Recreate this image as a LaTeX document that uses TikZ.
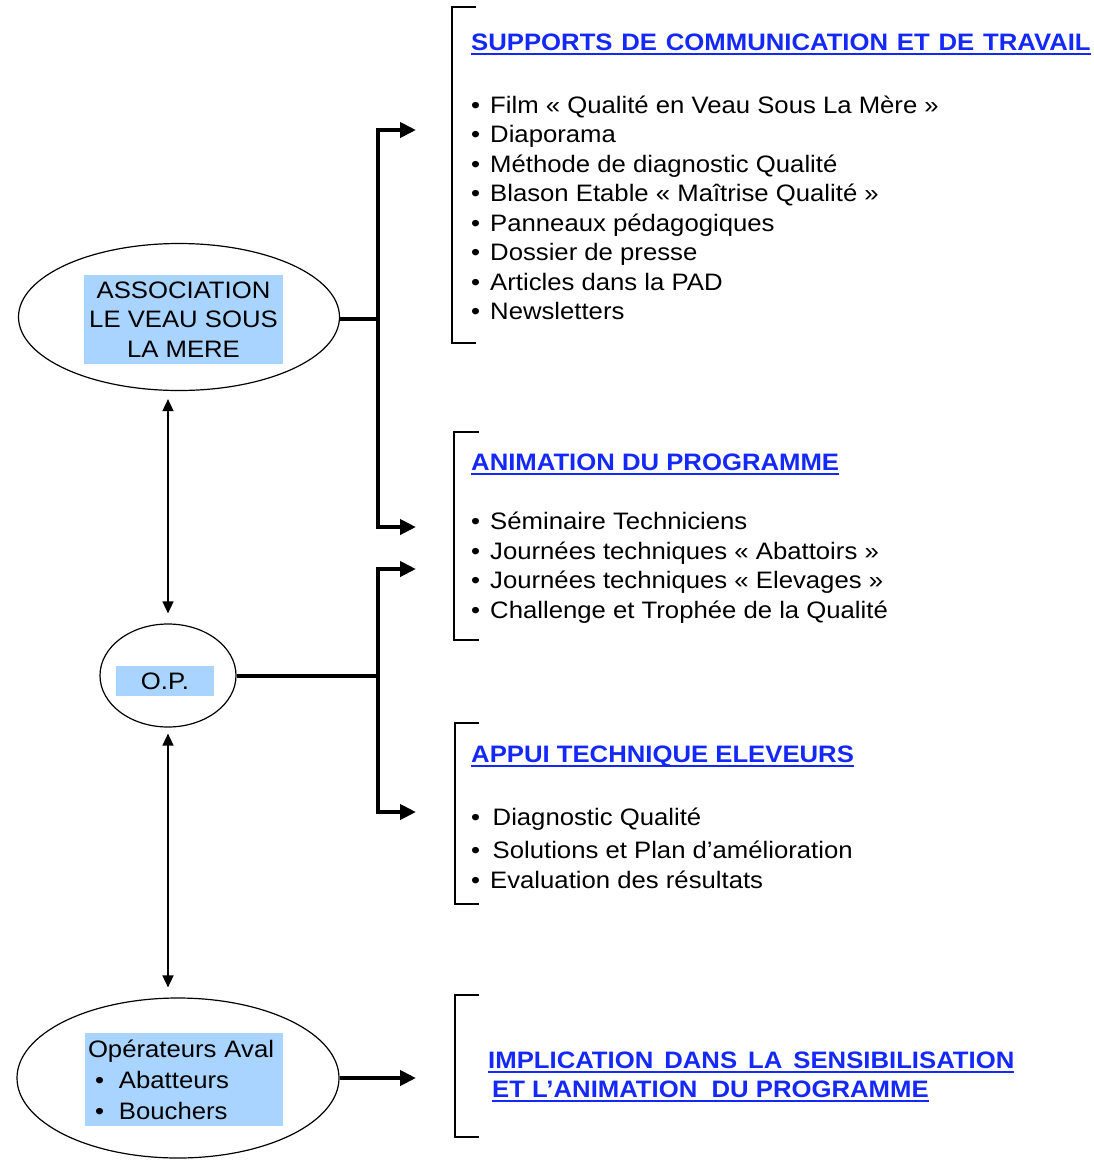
\documentclass[tikz,border=0pt]{standalone}
\usepackage{fontspec}
\setmainfont[FakeStretch=1.08]{Liberation Sans}
\usetikzlibrary{shapes.geometric, arrows.meta}
\definecolor{titleblue}{RGB}{20,40,250}
\definecolor{boxblue}{RGB}{168,212,255}
\newcommand{\bodysize}{\fontsize{23.8}{29.5}\selectfont}
\newcommand{\ultitle}[1]{\setbox0\hbox{#1}\rlap{\rule[-4.5pt]{\wd0}{1.4pt}}\box0}
\newcommand{\dotitem}{\makebox[19pt][l]{•}}
\newcommand{\wideitem}{\makebox[21.5pt][l]{•}}

\begin{document}
\begin{tikzpicture}[x=1pt, y=-1pt,
  actor/.style={ellipse, draw, line width=1.2pt, inner sep=0pt},
  namebox/.style={fill=boxblue, inner sep=0pt, font=\bodysize, align=center},
  heading/.style={anchor=base west, inner sep=0pt, font=\bodysize\bfseries, text=titleblue},
  entry/.style={anchor=base west, inner sep=0pt, font=\bodysize},
  brace/.style={line width=2.2pt},
  trunk/.style={line width=4.4pt},
  feed/.style={trunk, -{Triangle[length=16pt,width=15pt]}},
  link/.style={line width=1.5pt, {Triangle[length=12pt,width=11pt]}-{Triangle[length=12pt,width=11pt]}}]
	\useasboundingbox (0,0) rectangle (1094,1160);

	% the three partners
	\node[actor, minimum width=321, minimum height=147] (assoc) at (179,317) {};
	\node[namebox, minimum width=199, minimum height=89] (assoc-txt) at (183.5,319.5) {ASSOCIATION\\LE VEAU SOUS\\LA MERE};
	\node[actor, minimum width=136, minimum height=103] (op) at (168,675.5) {};
	\node[namebox, minimum width=98, minimum height=30] (op-txt) at (165,681) {O.P.};
	\node[actor, minimum width=322, minimum height=160] (aval) at (178,1078) {};
	\node[namebox, align=left, inner xsep=3pt, text width=192, minimum height=93, font=\fontsize{23.8}{31}\selectfont] (aval-txt) at (184,1079.5)
		{Opérateurs Aval\\\makebox[31pt][l]{\hspace*{7pt}•}Abatteurs\\\makebox[31pt][l]{\hspace*{7pt}•}Bouchers};

	% brackets
	\draw[brace] (476,7) -| (452,343) -- (476,343);
	\draw[brace] (479,432) -| (454,640) -- (479,640);
	\draw[brace] (479,723) -| (455,904) -- (479,904);
	\draw[brace] (479,995) -| (455,1137) -- (479,1137);

	% headings
	\node[heading] (sup-title) at (471,50) {\ultitle{\spaceskip=8.8pt SUPPORTS DE COMMUNICATION ET DE TRAVAIL}};
	\node[heading] (anim-title) at (471,470) {\ultitle{ANIMATION DU PROGRAMME}};
	\node[heading] (appui-title) at (471,762) {\ultitle{APPUI TECHNIQUE ELEVEURS}};
	\node[heading] (impl-title) at (488,1068) {\ultitle{\spaceskip=11pt IMPLICATION DANS LA SENSIBILISATION}};
	\node[heading] (impl-title2) at (492,1097) {\ultitle{ET L’ANIMATION\ \ DU PROGRAMME}};

	% lists
	\foreach \txt [count=\i from 0] in {Film « Qualité en Veau Sous La Mère », Diaporama, Méthode de diagnostic Qualité,
		Blason Etable « Maîtrise Qualité », Panneaux pédagogiques, Dossier de presse, Articles dans la PAD, Newsletters}
		\node[entry] (sup-\i) at (471,{113+29.5*\i}) {\dotitem\txt};
	\foreach \txt [count=\i from 0] in {Séminaire Techniciens, Journées techniques « Abattoirs », Journées techniques « Elevages »,
		Challenge et Trophée de la Qualité}
		\node[entry] (anim-\i) at (471,{529.5+29.7*\i}) {\dotitem\txt};
	\node[entry] (appui-0) at (471,825) {\wideitem Diagnostic Qualité};
	\node[entry] (appui-1) at (471,858) {\wideitem Solutions et Plan d’amélioration};
	\node[entry] (appui-2) at (471,888) {\dotitem Evaluation des résultats};

	% connectors
	\coordinate (hub-assoc) at (378,319);
	\coordinate (sup-in) at (416,130);
	\coordinate (anim-in) at (416,527);
	\coordinate (hub-op) at (378,676);
	\coordinate (anim-in2) at (416,569);
	\coordinate (appui-in) at (416,812);
	\coordinate (impl-in) at (416,1078);
	\draw[trunk] (assoc.east |- hub-assoc) -- (hub-assoc);
	\draw[feed] (hub-assoc) |- (sup-in);
	\draw[feed] (hub-assoc) |- (anim-in);
	\draw[trunk] (op.east |- hub-op) -- (hub-op);
	\draw[feed] (hub-op) |- (anim-in2);
	\draw[feed] (hub-op) |- (appui-in);
	\draw[feed] (aval.east |- impl-in) -- (impl-in);
	\draw[link, shorten <=8pt, shorten >=10pt] (op.north |- assoc.south) -- (op.north);
	\draw[link, shorten <=6pt, shorten >=10pt] (op.south) -- (op.south |- aval.north);
\end{tikzpicture}
\end{document}
